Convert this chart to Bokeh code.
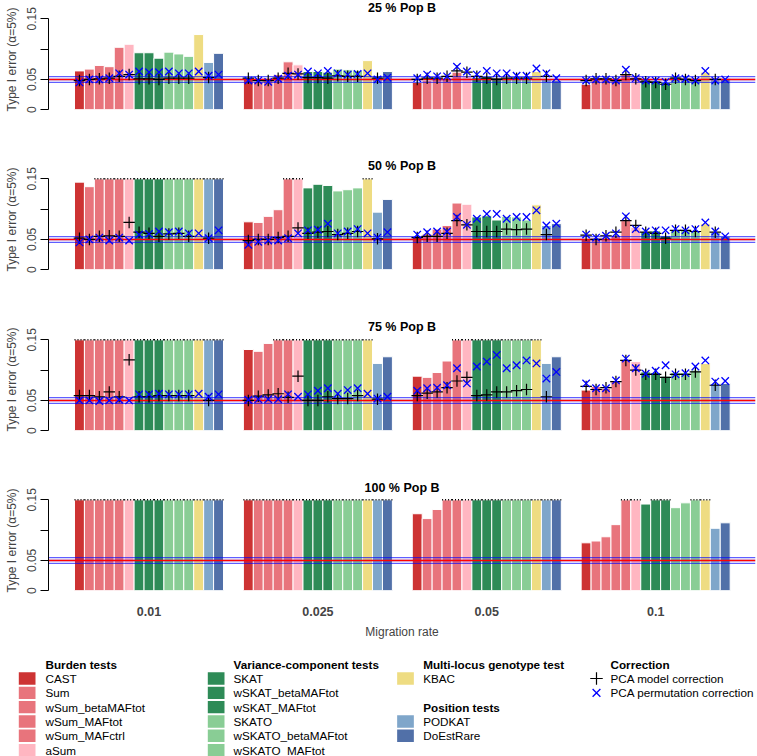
import math
from bokeh.plotting import figure
from bokeh.layouts import column
from bokeh.models import Range1d, FixedTicker, ColumnDataSource
from bokeh.embed import file_html
from bokeh.resources import INLINE
from bokeh.core.properties import value

# ---------------- data ----------------
tests = ["CAST", "Sum", "wSum_betaMAFtot", "wSum_MAFtot", "wSum_MAFctrl", "aSum",
         "SKAT", "wSKAT_betaMAFtot", "wSKAT_MAFtot", "SKATO", "wSKATO_betaMAFtot",
         "wSKATO_MAFtot", "KBAC", "PODKAT", "DoEstRare"]
test_colors = ["#CD3333", "#E8747C", "#E8747C", "#E8747C", "#E8747C", "#FFB6C1",
               "#2E8B57", "#2E8B57", "#2E8B57", "#89CD95", "#89CD95", "#89CD95",
               "#EEDC82", "#7FA6CA", "#5170A8"]
rates = ["0.01", "0.025", "0.05", "0.1"]
pop_titles = ["25 % Pop B", "50 % Pop B", "75 % Pop B", "100 % Pop B"]

nominal = 0.05
ci_low, ci_high = 0.0457, 0.0543
cap = 0.15          # bars are truncated at 0.15 (dotted top = value >= 0.15)
y_ticks = [0, 0.05, 0.1, 0.15]
y_tick_labels = ["0", "0.05", "", "0.15"]

N = None
# uncorrected type I error, one list per migration rate
raw_25 = [
    [0.064, 0.067, 0.073, 0.071, 0.103, 0.108, 0.094, 0.094, 0.085, 0.095, 0.092, 0.088, 0.124, 0.078, 0.093],
    [0.050, 0.047, 0.051, 0.058, 0.079, 0.074, 0.063, 0.063, 0.062, 0.067, 0.066, 0.065, 0.081, 0.056, 0.063],
    [0.045, 0.048, 0.050, 0.050, 0.062, 0.056, 0.053, 0.055, 0.053, 0.052, 0.050, 0.050, 0.063, 0.050, 0.048],
    [0.042, 0.050, 0.050, 0.050, 0.059, 0.056, 0.050, 0.048, 0.045, 0.055, 0.053, 0.052, 0.062, 0.050, 0.052],
]
model_25 = [
    [0.048, 0.050, 0.051, 0.052, 0.055, 0.058, 0.051, 0.051, 0.050, 0.052, 0.052, 0.052, N, 0.053, N],
    [0.052, 0.048, 0.048, 0.052, 0.060, 0.059, 0.053, 0.053, 0.052, 0.056, 0.055, 0.055, N, 0.052, N],
    [0.050, 0.052, 0.052, 0.055, 0.064, 0.062, 0.055, 0.052, 0.050, 0.052, 0.052, 0.052, N, 0.055, N],
    [0.048, 0.051, 0.051, 0.048, 0.058, 0.051, 0.046, 0.045, 0.042, 0.052, 0.050, 0.048, N, 0.050, N],
]
perm_25 = [
    [0.045, 0.050, 0.050, 0.052, 0.060, 0.058, 0.063, 0.062, 0.062, 0.063, 0.060, 0.060, 0.063, 0.056, 0.058],
    [0.048, 0.048, 0.046, 0.051, 0.056, 0.058, 0.063, 0.060, 0.064, 0.060, 0.058, 0.059, 0.060, 0.050, 0.053],
    [0.052, 0.058, 0.055, 0.055, 0.071, 0.063, 0.058, 0.064, 0.060, 0.060, 0.056, 0.056, 0.068, 0.060, 0.052],
    [0.048, 0.050, 0.050, 0.048, 0.066, 0.052, 0.048, 0.048, 0.046, 0.052, 0.051, 0.048, 0.064, 0.048, 0.050],
]

raw_50 = [
    [0.1445, 0.137, 0.15, 0.15, 0.15, 0.15, 0.15, 0.15, 0.15, 0.15, 0.15, 0.15, 0.15, 0.15, 0.15],
    [0.079, 0.078, 0.088, 0.099, 0.15, 0.15, 0.135, 0.141, 0.139, 0.130, 0.132, 0.135, 0.15, 0.095, 0.116],
    [0.055, 0.059, 0.067, 0.073, 0.110, 0.108, 0.087, 0.089, 0.082, 0.088, 0.087, 0.082, 0.107, 0.073, 0.076],
    [0.050, 0.050, 0.052, 0.056, 0.081, 0.070, 0.063, 0.064, 0.056, 0.065, 0.066, 0.064, 0.076, 0.062, 0.055],
]
model_50 = [
    [0.052, 0.050, 0.055, 0.056, 0.055, 0.078, 0.062, 0.060, 0.055, 0.059, 0.060, 0.055, N, 0.052, N],
    [0.048, 0.050, 0.050, 0.053, 0.055, 0.069, 0.060, 0.062, 0.063, 0.058, 0.060, 0.063, N, 0.051, N],
    [0.053, 0.055, 0.055, 0.060, 0.081, 0.074, 0.063, 0.063, 0.063, 0.067, 0.066, 0.067, N, 0.058, N],
    [0.057, 0.050, 0.056, 0.062, 0.081, 0.073, 0.062, 0.060, 0.052, 0.065, 0.065, 0.063, N, 0.062, N],
]
perm_50 = [
    [0.045, 0.050, 0.053, 0.048, 0.053, 0.048, 0.058, 0.059, 0.063, 0.062, 0.063, 0.060, 0.060, 0.052, 0.065],
    [0.041, 0.046, 0.048, 0.048, 0.052, 0.060, 0.065, 0.066, 0.076, 0.060, 0.063, 0.067, 0.060, 0.053, 0.062],
    [0.058, 0.062, 0.063, 0.063, 0.087, 0.074, 0.084, 0.092, 0.092, 0.084, 0.087, 0.087, 0.098, 0.073, 0.076],
    [0.058, 0.053, 0.056, 0.060, 0.088, 0.067, 0.063, 0.065, 0.065, 0.067, 0.065, 0.067, 0.078, 0.063, 0.055],
]

raw_75 = [
    [0.15, 0.15, 0.15, 0.15, 0.15, 0.15, 0.15, 0.15, 0.15, 0.15, 0.15, 0.15, 0.15, 0.15, 0.15],
    [0.134, 0.131, 0.144, 0.15, 0.15, 0.15, 0.15, 0.15, 0.15, 0.15, 0.15, 0.15, 0.15, 0.111, 0.122],
    [0.090, 0.088, 0.096, 0.115, 0.15, 0.15, 0.15, 0.15, 0.15, 0.15, 0.15, 0.15, 0.15, 0.111, 0.122],
    [0.067, 0.073, 0.070, 0.082, 0.117, 0.114, 0.097, 0.096, 0.090, 0.096, 0.096, 0.100, 0.111, 0.078, 0.078],
]
model_75 = [
    [0.058, 0.058, 0.056, 0.064, 0.056, 0.117, 0.056, 0.056, 0.058, 0.058, 0.058, 0.058, N, 0.050, N],
    [0.050, 0.057, 0.059, 0.061, 0.055, 0.090, 0.050, 0.050, 0.056, 0.053, 0.053, 0.058, N, 0.052, N],
    [0.058, 0.062, 0.064, 0.071, 0.082, 0.088, 0.058, 0.059, 0.064, 0.064, 0.066, 0.068, N, 0.056, N],
    [0.073, 0.068, 0.071, 0.081, 0.116, 0.100, 0.093, 0.093, 0.088, 0.093, 0.093, 0.097, N, 0.075, N],
]
perm_75 = [
    [0.050, 0.050, 0.049, 0.050, 0.051, 0.050, 0.060, 0.060, 0.061, 0.060, 0.060, 0.060, 0.061, 0.056, 0.060],
    [0.051, 0.052, 0.052, 0.052, 0.060, 0.056, 0.060, 0.066, 0.070, 0.061, 0.067, 0.070, 0.061, 0.053, 0.056],
    [0.066, 0.070, 0.071, 0.075, 0.103, 0.078, 0.106, 0.114, 0.125, 0.103, 0.108, 0.116, 0.111, 0.086, 0.097],
    [0.078, 0.070, 0.070, 0.083, 0.119, 0.103, 0.094, 0.099, 0.108, 0.093, 0.095, 0.106, 0.116, 0.081, 0.082],
]

raw_100 = [
    [0.15, 0.15, 0.15, 0.15, 0.15, 0.15, 0.15, 0.15, 0.15, 0.15, 0.15, 0.15, 0.15, 0.15, 0.15],
    [0.15, 0.15, 0.15, 0.15, 0.15, 0.15, 0.15, 0.15, 0.15, 0.15, 0.15, 0.15, 0.15, 0.15, 0.15],
    [0.127, 0.119, 0.134, 0.15, 0.15, 0.15, 0.15, 0.15, 0.15, 0.15, 0.15, 0.15, 0.15, 0.15, 0.15],
    [0.079, 0.082, 0.089, 0.109, 0.15, 0.15, 0.143, 0.15, 0.15, 0.137, 0.145, 0.15, 0.15, 0.103, 0.112],
]

legend_groups = [
    ("Burden tests", tests[0:6]),
    ("Variance-component tests", tests[6:12]),
]
correction_labels = ["PCA model correction", "PCA permutation correction"]

# ---------------- layout / style ----------------
FONT = "Liberation Sans"
W = 757
GROUP_STEP = 17          # 15 bars + 2 bar-widths gap
X_LEFT, X_RIGHT = -2.617, 68.55
PPU = 606.0              # pixels per unit of type I error
FRAME_H = 118
HEIGHTS = [160, 160, 161, 165]
TOP_PX = [18.3, 18.3, 19.3, 18.3]        # frame top -> 0.15 line
TITLE_PX = [11.0, 12.5, 12.5, 11.6]      # title centre above the 0.15 line


def bar_x(g, i):
    return GROUP_STEP * g + i + 0.5


def make_panel(k, title, raw, model, perm, last):
    h = HEIGHTS[k]
    y_end = cap + TOP_PX[k] / PPU
    y_start = y_end - FRAME_H / PPU
    p = figure(width=W, height=h, x_range=Range1d(X_LEFT, X_RIGHT),
               y_range=Range1d(y_start, y_end), output_backend="svg",
               toolbar_location=None, x_axis_location="below" if last else None,
               min_border_left=48, min_border_right=2, min_border_top=0,
               min_border_bottom=h - FRAME_H)
    p.xgrid.visible = False
    p.ygrid.visible = False
    p.outline_line_color = None
    p.background_fill_color = "white"

    xs, tops, cols = [], [], []
    cx0, cx1 = [], []
    mx, my, px, py = [], [], [], []
    for g in range(4):
        for i in range(15):
            x = bar_x(g, i)
            v = raw[g][i]
            xs.append(x)
            tops.append(min(v, cap))
            cols.append(test_colors[i])
            if v >= cap:
                cx0.append(x - 0.5)
                cx1.append(x + 0.5)
            if model is not None and model[g][i] is not None:
                mx.append(x)
                my.append(model[g][i])
            if perm is not None and perm[g][i] is not None:
                px.append(x)
                py.append(perm[g][i])

    src = ColumnDataSource(dict(x=xs, top=tops, color=cols))
    p.vbar(x="x", top="top", bottom=0, width=1, fill_color="color",
           line_color="white", line_width=1, source=src)
    if cx0:
        p.segment(x0=cx0, x1=cx1, y0=[cap] * len(cx0), y1=[cap] * len(cx0),
                  line_color="black", line_width=1.4, line_dash="1 2")

    p.hstrip(y0=[ci_low], y1=[ci_high], fill_color="blue", fill_alpha=0.15,
             line_color=None)
    p.hspan(y=[ci_low, ci_high], line_color="blue", line_alpha=0.6, line_width=1)
    p.hspan(y=[nominal], line_color="red", line_width=1.5)

    if mx:
        p.scatter(x=mx, y=my, marker="cross", size=11.5, line_color="black",
                  line_width=1.2)
    if px:
        p.scatter(x=px, y=py, marker="x", size=10.5, line_color="blue",
                  line_width=1.3)

    p.text(x=[(X_LEFT + X_RIGHT) / 2], y=[cap + TITLE_PX[k] / PPU], text=[title],
           text_font=value(FONT), text_font_size="12.5px", text_font_style="bold",
           text_align="center", text_baseline="middle", text_color="black")

    ya = p.yaxis[0]
    ya.ticker = FixedTicker(ticks=y_ticks)
    ya.major_label_overrides = {t: l for t, l in zip(y_ticks, y_tick_labels)}
    ya.bounds = (0, cap)
    ya.major_label_orientation = "vertical"
    ya.major_label_text_font = FONT
    ya.major_label_text_font_size = "12px"
    ya.major_label_standoff = 4
    ya.major_tick_out = 8
    ya.major_tick_in = 0
    ya.minor_tick_line_color = None
    ya.axis_line_color = "black"
    ya.major_tick_line_color = "black"
    ya.axis_label = "Type I error (\u03b1=5%)"
    ya.axis_label_text_font = FONT
    ya.axis_label_text_font_size = "12px"
    ya.axis_label_text_font_style = "normal"
    ya.axis_label_standoff = 6

    if last:
        xa = p.xaxis[0]
        centers = [bar_x(g, 7) for g in range(4)]
        xa.ticker = FixedTicker(ticks=centers)
        xa.major_label_overrides = {c: r for c, r in zip(centers, rates)}
        xa.major_label_text_font = FONT
        xa.major_label_text_font_size = "12.5px"
        xa.major_label_text_font_style = "bold"
        xa.major_tick_out = 0
        xa.major_tick_in = 0
        xa.major_label_standoff = 7
        xa.axis_line_color = None
        xa.major_tick_line_color = None
        xa.minor_tick_line_color = None
        xa.axis_label = "Migration rate"
        xa.axis_label_text_font = FONT
        xa.axis_label_text_font_size = "12px"
        xa.axis_label_text_font_style = "normal"
        xa.axis_label_standoff = 6
    return p


panels = [
    make_panel(0, pop_titles[0], raw_25, model_25, perm_25, False),
    make_panel(1, pop_titles[1], raw_50, model_50, perm_50, False),
    make_panel(2, pop_titles[2], raw_75, model_75, perm_75, False),
    make_panel(3, pop_titles[3], raw_100, None, None, True),
]

# ---------------- legend ----------------
LH = 756 - sum(HEIGHTS)
lg = figure(width=W, height=LH, x_range=Range1d(0, W), y_range=Range1d(0, LH),
            output_backend="svg", toolbar_location=None, x_axis_location=None,
            y_axis_location=None, min_border_left=0, min_border_right=0,
            min_border_top=0, min_border_bottom=0)
lg.xgrid.visible = False
lg.ygrid.visible = False
lg.outline_line_color = None


def ly(px_from_top):
    return LH - px_from_top


HDR_Y = 18.0
ROW0 = 32.0
ROWSTEP = 14.33
SQ_W, SQ_H = 16.7, 12.4
FS = "11.7px"
col_sq = [26.65, 215.65, 405.0]
col_tx = [45.0, 233.0, 422.7]

sq_x, sq_y, sq_c, tx_x, tx_y, tx_t = [], [], [], [], [], []
hd_x, hd_y, hd_t = [], [], []
for c, (hdr, items) in enumerate(legend_groups):
    hd_x.append(col_tx[c]); hd_y.append(ly(HDR_Y)); hd_t.append(hdr)
    for r, name in enumerate(items):
        yy = ly(ROW0 + r * ROWSTEP)
        sq_x.append(col_sq[c]); sq_y.append(yy); sq_c.append(test_colors[tests.index(name)])
        tx_x.append(col_tx[c]); tx_y.append(yy); tx_t.append(name)

# column 3: multi-locus + position tests
hd_x.append(col_tx[2]); hd_y.append(ly(HDR_Y)); hd_t.append("Multi-locus genotype test")
for r, name in [(0, "KBAC")]:
    yy = ly(ROW0 + r * ROWSTEP)
    sq_x.append(col_sq[2]); sq_y.append(yy); sq_c.append(test_colors[tests.index(name)])
    tx_x.append(col_tx[2]); tx_y.append(yy); tx_t.append(name)
hd_x.append(col_tx[2]); hd_y.append(ly(ROW0 + 2 * ROWSTEP)); hd_t.append("Position tests")
for r, name in [(3, "PODKAT"), (4, "DoEstRare")]:
    yy = ly(ROW0 + r * ROWSTEP)
    sq_x.append(col_sq[2]); sq_y.append(yy); sq_c.append(test_colors[tests.index(name)])
    tx_x.append(col_tx[2]); tx_y.append(yy); tx_t.append(name)

# column 4: corrections
C4_MK, C4_TX = 596.0, 610.0
hd_x.append(C4_TX); hd_y.append(ly(HDR_Y)); hd_t.append("Correction")
for r, lab in enumerate(correction_labels):
    tx_x.append(C4_TX); tx_y.append(ly(ROW0 + r * ROWSTEP)); tx_t.append(lab)

lg.rect(x=sq_x, y=sq_y, width=SQ_W, height=SQ_H, fill_color=sq_c, line_color=None)
lg.text(x=tx_x, y=tx_y, text=tx_t, text_font=value(FONT), text_font_size=FS,
        text_baseline="middle", text_align="left", text_color="black")
lg.text(x=hd_x, y=hd_y, text=hd_t, text_font=value(FONT), text_font_size=FS,
        text_font_style="bold", text_baseline="middle", text_align="left",
        text_color="black")
lg.scatter(x=[C4_MK], y=[ly(ROW0)], marker="cross", size=12.5, line_color="black",
           line_width=1.2)
lg.scatter(x=[C4_MK], y=[ly(ROW0 + ROWSTEP)], marker="x", size=11, line_color="blue",
           line_width=1.3)

# nest the panels so the legend's frame is not aligned with the panel frames
layout = column(column(*panels), lg)
open("out.html", "w").write(file_html(layout, INLINE))
